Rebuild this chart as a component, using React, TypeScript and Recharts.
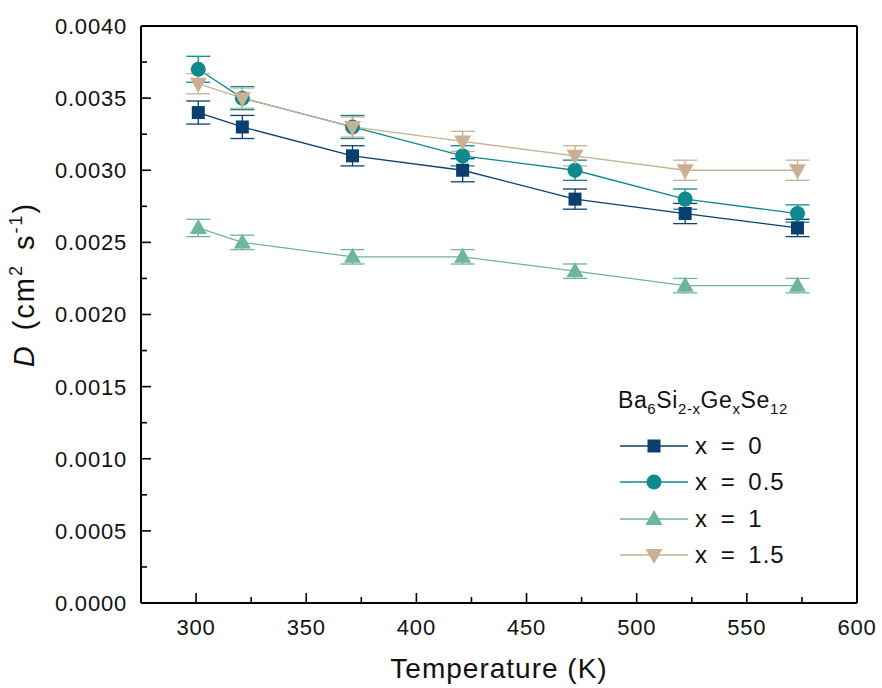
import React from 'react'
import { LineChart, Line, XAxis, YAxis, ErrorBar, Legend } from 'recharts'

document.body.style.margin = '0'

const FONT = '"Liberation Sans", Arial, sans-serif'

// temperatures (K)
const temperatures = [301, 321, 371, 421, 472, 522, 573]

// D (cm2 s-1) for each composition
const dX0 = [0.0034, 0.0033, 0.0031, 0.003, 0.0028, 0.0027, 0.0026]
const dX05 = [0.0037, 0.0035, 0.0033, 0.0031, 0.003, 0.0028, 0.0027]
const dX1 = [0.0026, 0.0025, 0.0024, 0.0024, 0.0023, 0.0022, 0.0022]
const dX15 = [0.0036, 0.0035, 0.0033, 0.0032, 0.0031, 0.003, 0.003]

// error bars (±)
const errX0 = [0.00008, 0.00008, 0.00007, 0.00008, 0.00007, 0.00007, 0.00006]
const errX05 = [0.00009, 0.00008, 0.00008, 0.00007, 0.00007, 0.00007, 0.00006]
const errX1 = [0.00006, 0.00005, 0.00005, 0.00005, 0.00005, 0.00005, 0.00005]
const errX15 = [0.00007, 0.00007, 0.00007, 0.00007, 0.00007, 0.00007, 0.00007]

const xTicks = [300, 325, 350, 375, 400, 425, 450, 475, 500, 525, 550, 575, 600]
const yTicks = [
  0, 0.00025, 0.0005, 0.00075, 0.001, 0.00125, 0.0015, 0.00175, 0.002, 0.00225, 0.0025, 0.00275, 0.003,
  0.00325, 0.0035, 0.00375, 0.004,
]

const seriesNames = ['x = 0', 'x = 0.5', 'x = 1', 'x = 1.5']
const seriesColors = ['#0a3f6e', '#0f8a8c', '#6db69a', '#c9b095']
const seriesShapes = ['square', 'circle', 'up', 'down']

const data = temperatures.map((t, i) => ({
  T: t,
  s0: dX0[i],
  e0: errX0[i],
  s1: dX05[i],
  e1: errX05[i],
  s2: dX1[i],
  e2: errX1[i],
  s3: dX15[i],
  e3: errX15[i],
}))

function Marker({ shape, cx, cy, color }: { shape: string; cx: number; cy: number; color: string }) {
  if (shape === 'square') return <rect x={cx - 6.5} y={cy - 6.5} width={13} height={13} fill={color} />
  if (shape === 'circle') return <circle cx={cx} cy={cy} r={7.5} fill={color} />
  if (shape === 'up')
    return <polygon points={`${cx},${cy - 9} ${cx + 8.5},${cy + 6} ${cx - 8.5},${cy + 6}`} fill={color} />
  return <polygon points={`${cx},${cy + 9} ${cx + 8.5},${cy - 6} ${cx - 8.5},${cy - 6}`} fill={color} />
}

const tickText = { fontFamily: FONT, fontSize: 22, letterSpacing: 0.8, fill: '#111' }

const BottomTick = (props: any) => {
  const { x, y, index, payload } = props
  const major = index % 2 === 0
  return (
    <g>
      <line x1={x} x2={x} y1={y} y2={y - (major ? 10 : 6)} stroke="#000" strokeWidth={1.6} />
      {major && (
        <text x={x} y={y + 32} textAnchor="middle" {...tickText}>
          {payload.value}
        </text>
      )}
    </g>
  )
}

const TopTick = (props: any) => {
  const { x, y, index } = props
  const major = index % 2 === 0
  return <line x1={x} x2={x} y1={y} y2={y + (major ? 10 : 6)} stroke="#000" strokeWidth={1.6} />
}

const LeftTick = (props: any) => {
  const { x, y, index, payload } = props
  const major = index % 2 === 0
  return (
    <g>
      <line x1={x} x2={x + (major ? 10 : 6)} y1={y} y2={y} stroke="#000" strokeWidth={1.6} />
      {major && (
        <text x={x - 14} y={y} dy="0.36em" textAnchor="end" {...tickText}>
          {Number(payload.value).toFixed(4)}
        </text>
      )}
    </g>
  )
}

const RightTick = (props: any) => {
  const { x, y, index } = props
  const major = index % 2 === 0
  return <line x1={x} x2={x - (major ? 10 : 6)} y1={y} y2={y} stroke="#000" strokeWidth={1.6} />
}

const XTitle = (props: any) => {
  const { viewBox } = props
  return (
    <text
      x={viewBox.x + viewBox.width / 2}
      y={viewBox.y + 75}
      textAnchor="middle"
      fontFamily={FONT}
      fontSize={28}
      letterSpacing={1}
      fill="#111"
    >
      Temperature (K)
    </text>
  )
}

const YTitle = (props: any) => {
  const { viewBox } = props
  const cx = 34
  const cy = viewBox.y + viewBox.height / 2 - 30
  return (
    <text
      x={cx}
      y={cy}
      transform={`rotate(-90, ${cx}, ${cy})`}
      textAnchor="middle"
      fontFamily={FONT}
      fontSize={29}
      letterSpacing={2}
      wordSpacing={4}
      fill="#111"
    >
      <tspan fontStyle="italic">D</tspan>
      <tspan> (cm</tspan>
      <tspan dy={-12} fontSize={18}>
        2
      </tspan>
      <tspan dy={12}> s</tspan>
      <tspan dy={-12} fontSize={18}>
        -1
      </tspan>
      <tspan dy={12}>)</tspan>
    </text>
  )
}

const LegendBox = () => (
  <div style={{ fontFamily: FONT, color: '#111' }}>
    <div style={{ fontSize: 23, letterSpacing: 0.6, lineHeight: '30px', marginBottom: 4, whiteSpace: 'nowrap' }}>
      Ba<sub style={{ fontSize: 15 }}>6</sub>Si<sub style={{ fontSize: 15 }}>2-x</sub>Ge
      <sub style={{ fontSize: 15 }}>x</sub>Se<sub style={{ fontSize: 15 }}>12</sub>
    </div>
    {seriesNames.map((name, i) => (
      <div key={name} style={{ display: 'flex', alignItems: 'center', height: 36.5 }}>
        <svg width={74} height={24}>
          <line x1={2} x2={70} y1={12} y2={12} stroke={seriesColors[i]} strokeWidth={1.3} />
          <Marker shape={seriesShapes[i]} cx={36} cy={12} color={seriesColors[i]} />
        </svg>
        <span style={{ fontSize: 24, letterSpacing: 1, wordSpacing: 5, marginLeft: 3, whiteSpace: 'nowrap' }}>
          {name}
        </span>
      </div>
    ))}
  </div>
)

export default function App() {
  return (
    <div style={{ width: 882, height: 688, background: '#fff', fontFamily: FONT }}>
      <LineChart width={882} height={688} data={data} margin={{ top: 25, right: 24, bottom: 0, left: 0 }}>
        <XAxis
          dataKey="T"
          type="number"
          domain={[275, 600]}
          ticks={xTicks}
          interval={0}
          height={85}
          tickSize={0}
          tickMargin={0}
          tickLine={false}
          tick={<BottomTick />}
          axisLine={{ stroke: '#000', strokeWidth: 2 }}
          label={<XTitle />}
        />
        <XAxis
          xAxisId="top"
          orientation="top"
          type="number"
          domain={[275, 600]}
          ticks={xTicks}
          interval={0}
          height={1}
          tickSize={0}
          tickMargin={0}
          tickLine={false}
          tick={<TopTick />}
          axisLine={{ stroke: '#000', strokeWidth: 2 }}
        />
        <YAxis
          type="number"
          domain={[0, 0.004]}
          ticks={yTicks}
          interval={0}
          width={141}
          tickSize={0}
          tickMargin={0}
          tickLine={false}
          tick={<LeftTick />}
          axisLine={{ stroke: '#000', strokeWidth: 2 }}
          label={<YTitle />}
        />
        <YAxis
          yAxisId="right"
          orientation="right"
          type="number"
          domain={[0, 0.004]}
          ticks={yTicks}
          interval={0}
          width={1}
          tickSize={0}
          tickMargin={0}
          tickLine={false}
          tick={<RightTick />}
          axisLine={{ stroke: '#000', strokeWidth: 2 }}
        />
        <Legend
          layout="vertical"
          align="center"
          verticalAlign="middle"
          content={<LegendBox />}
          wrapperStyle={{ left: 618, top: 385, width: 240 }}
        />
        {seriesNames.map((name, i) => (
          <Line
            key={name}
            name={name}
            dataKey={`s${i}`}
            stroke={seriesColors[i]}
            strokeWidth={1.3}
            isAnimationActive={false}
            activeDot={false}
            dot={(p: any) => (
              <Marker key={`d${i}-${p.index}`} shape={seriesShapes[i]} cx={p.cx} cy={p.cy} color={seriesColors[i]} />
            )}
          >
            <ErrorBar
              dataKey={`e${i}`}
              direction="y"
              width={12}
              stroke={seriesColors[i]}
              strokeWidth={1.3}
              isAnimationActive={false}
            />
          </Line>
        ))}
      </LineChart>
    </div>
  )
}
